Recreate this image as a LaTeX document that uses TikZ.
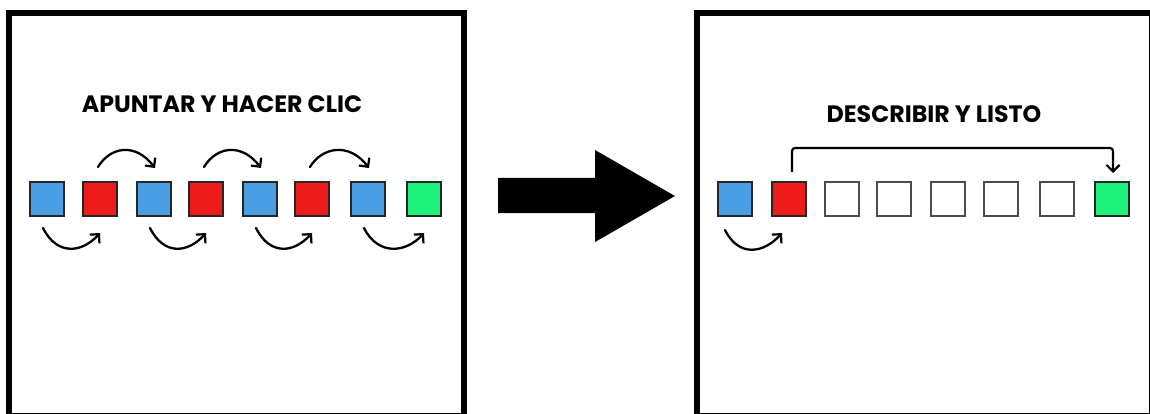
\documentclass[tikz,border=0pt]{standalone}
\usepackage{fontspec}
\setmainfont{Poppins}[UprightFont=* SemiBold, BoldFont=* Bold]
\usetikzlibrary{arrows.meta}
\definecolor{sqblue}{HTML}{4A9FE3}
\definecolor{sqred}{HTML}{EE1B1B}
\definecolor{sqgreen}{HTML}{1AF27A}
\tikzset{
  x=1pt, y=-1pt,
  sq/.style={draw=black!85, line width=1.3pt, minimum size=34pt, inner sep=0pt, outer sep=0pt},
  bsq/.style={sq, fill=sqblue},
  rsq/.style={sq, fill=sqred},
  gsq/.style={sq, fill=sqgreen},
  wsq/.style={sq, draw=black!70, fill=white},
  panel/.style={draw=black, line width=6pt},
  hop/.style={line width=2.3pt, line cap=round, -{Straight Barb[length=6.5pt,width=13pt,line width=2.2pt]}},
  title/.style={font=\bfseries\fontsize{23.7}{23.7}\selectfont, inner sep=0pt},
}
\begin{document}
\begin{tikzpicture}
\useasboundingbox (0,0) rectangle (1150,414);
\fill[white] (0,0) rectangle (1150,414);
% panels
\draw[panel] (8.5,13) rectangle (464,416);
\draw[panel] (697,13) rectangle (1152,416);
% titles
\node[title] (t1) at (222,104) {APUNTAR Y HACER CLIC};
\node[title] (t2) at (934,114) {DESCRIBIR Y LISTO};
% left row
\foreach \n/\x/\s in {1/47/bsq,2/100/rsq,3/154/bsq,4/206/rsq,5/260/bsq,6/312/rsq,7/368/bsq,8/424/gsq}
  \node[\s] (a\n) at (\x,199) {};
% right row
\foreach \n/\x/\s in {1/735/bsq,2/789/rsq,3/842/wsq,4/894/wsq,5/948/wsq,6/1001/wsq,7/1057/wsq,8/1112/gsq}
  \node[\s] (b\n) at (\x,199) {};
% over-the-top hops (red -> next blue)
\foreach \i/\j in {2/3,4/5,6/7}{
  \coordinate (s\i) at ([shift={(-2,-15)}]a\i.north);
  \coordinate (e\i) at ([shift={(1,-14)}]a\j.north);
  \draw[hop] (s\i) .. controls ([shift={(12,-20)}]s\i) and ([shift={(-20,-26)}]e\i) .. (e\i);
}
% under hops (blue -> next)
\foreach \i/\j in {1/2,3/4,5/6,7/8}{
  \coordinate (u\i) at ([shift={(-4,12)}]a\i.south);
  \coordinate (v\i) at ([shift={(0,17)}]a\j.south);
  \draw[hop] (u\i) .. controls ([shift={(14,28)}]u\i) and ([shift={(-18,20)}]v\i) .. (v\i);
}
\coordinate (ru) at ([shift={(-10,14)}]b1.south);
\coordinate (rv) at ([shift={(-7,17)}]b2.south);
\draw[hop] (ru) .. controls ([shift={(14,28)}]ru) and ([shift={(-18,20)}]rv) .. (rv);
% bracket arrow
\coordinate (bs) at ([shift={(3,-10)}]b2.north);
\coordinate (be) at ([shift={(1,-9)}]b8.north);
\draw[line width=2.2pt, rounded corners=3pt, -{Straight Barb[length=6.5pt,width=13pt,line width=2.2pt]}]
  (bs) -- (bs |- 0,148) -- (be |- 0,148) -- (be);
% big arrow
\fill[black] (498,178) -- (595,178) -- (595,150) -- (675,196) -- (595,242) -- (595,213) -- (498,213) -- cycle;
\end{tikzpicture}
\end{document}
